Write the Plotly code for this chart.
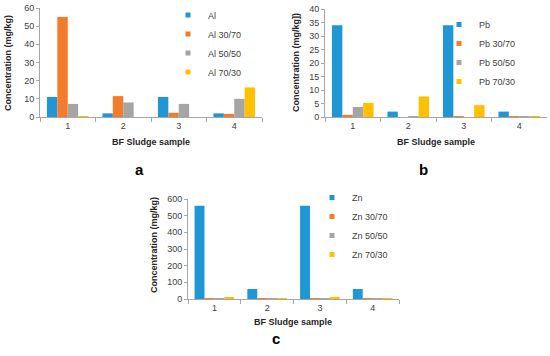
import plotly.graph_objects as go

samples = ["1", "2", "3", "4"]

al_names = ["Al", "Al 30/70", "Al 50/50", "Al 70/30"]
al_vals = [
    [11, 2, 11, 2],
    [55, 11.5, 2.3, 1.7],
    [7.2, 8, 7.2, 10],
    [0.5, 0, 0, 16.3],
]

pb_names = ["Pb", "Pb 30/70", "Pb 50/50", "Pb 70/30"]
pb_vals = [
    [34, 2, 34, 2],
    [0.8, 0, 0.3, 0.3],
    [3.7, 0.3, 0, 0.3],
    [5.2, 7.6, 4.4, 0.3],
]

zn_names = ["Zn", "Zn 30/70", "Zn 50/50", "Zn 70/30"]
zn_vals = [
    [560, 60, 560, 60],
    [3, 3, 3, 3],
    [3, 3, 3, 3],
    [10, 3, 13, 3],
]

colors = ["#1F97D6", "#F47B2A", "#A5A5A5", "#FFC000"]

W, H = 550, 356
FONT = "Liberation Sans, Arial, sans-serif"

fig = go.Figure()

def px_x(p):
    return p / W

def px_y(p):
    return 1 - p / H

panels = [
    (al_names, al_vals, "x", "y", "legend", (40, 262), (8, 117), 60, 10),
    (pb_names, pb_vals, "x2", "y2", "legend2", (325, 547), (9, 117), 40, 5),
    (zn_names, zn_vals, "x3", "y3", "legend3", (188, 399), (199, 299), 600, 100),
]

for names, vals, xa, ya, lg, xd, yd, ymax, dt in panels:
    for i, (n, v) in enumerate(zip(names, vals)):
        fig.add_trace(go.Bar(
            x=samples, y=v, name=n, marker=dict(color=colors[i], line=dict(width=0)),
            xaxis=xa, yaxis=ya, showlegend=False,
        ))
    for i, n in enumerate(names):
        fig.add_trace(go.Scatter(
            x=[None], y=[None], name=n, mode="markers",
            marker=dict(color=colors[i], symbol="square", size=5),
            xaxis=xa, yaxis=ya, legend=lg, showlegend=True, hoverinfo="skip",
        ))

axis_common_x = dict(
    type="category", showgrid=False, showline=True, linecolor="#A6A6A6", linewidth=1,
    ticks="outside", tickson="boundaries", ticklen=4, tickcolor="#A6A6A6",
    tickfont=dict(family=FONT, size=9, color="#404040"), zeroline=False, automargin=False,
)
axis_common_y = dict(
    showgrid=False, showline=True, linecolor="#A6A6A6", linewidth=1,
    ticks="outside", ticklen=3, tickcolor="#A6A6A6",
    tickfont=dict(family=FONT, size=9, color="#404040"), zeroline=False, automargin=False,
)

layout = dict(
    template="none",
    width=W, height=H, margin=dict(l=0, r=0, t=0, b=0, autoexpand=False),
    paper_bgcolor="white", plot_bgcolor="white",
    barmode="group", bargap=0.25, bargroupgap=0,
    font=dict(family=FONT, size=9, color="#404040"),
)

for k, (names, vals, xa, ya, lg, xd, yd, ymax, dt) in enumerate(panels):
    sfx = "" if k == 0 else str(k + 1)
    layout["xaxis" + sfx] = dict(axis_common_x, domain=[px_x(xd[0]), px_x(xd[1])], anchor="y" + sfx,
                                 categoryorder="array", categoryarray=samples)
    layout["yaxis" + sfx] = dict(axis_common_y, domain=[px_y(yd[1]), px_y(yd[0])], anchor="x" + sfx,
                                 range=[0, ymax], dtick=dt)

leg_common = dict(
    xanchor="left", yanchor="top", bgcolor="rgba(0,0,0,0)",
    font=dict(family=FONT, size=9, color="#404040"), itemwidth=30,
    tracegroupgap=0,
)
layout["legend"] = dict(leg_common, x=px_x(168), y=px_y(0.5))
layout["legend2"] = dict(leg_common, x=px_x(439), y=px_y(10))
layout["legend3"] = dict(leg_common, x=px_x(312), y=px_y(183))

fig.update_layout(**layout)

ann = []
title_font = dict(family=FONT, size=9, color="#262626")
for (x, y, t) in [(8, 63, "Concentration (mg/kg)"), (296, 63, "Concentration (mg/kg])"), (154, 245, "Concentration (mg/kg)")]:
    ann.append(dict(x=px_x(x), y=px_y(y), xref="paper", yref="paper", text="<b>%s</b>" % t,
                    textangle=-90, showarrow=False, font=title_font, xanchor="center", yanchor="middle"))
for (x, y) in [(151, 142), (436, 142), (293, 322)]:
    ann.append(dict(x=px_x(x), y=px_y(y), xref="paper", yref="paper", text="<b>BF Sludge sample</b>",
                    showarrow=False, font=dict(family=FONT, size=9, color="#262626"),
                    xanchor="center", yanchor="middle"))
for (x, y, t) in [(139, 170, "a"), (423, 169, "b"), (276, 338, "c")]:
    ann.append(dict(x=px_x(x), y=px_y(y), xref="paper", yref="paper", text="<b>%s</b>" % t,
                    showarrow=False, font=dict(family=FONT, size=15, color="#000000"),
                    xanchor="center", yanchor="middle"))
fig.update_layout(annotations=ann)

fig.write_html("out.html", config={"displayModeBar": False},
               post_script="document.body.style.margin='0';document.body.style.overflow='hidden';")
